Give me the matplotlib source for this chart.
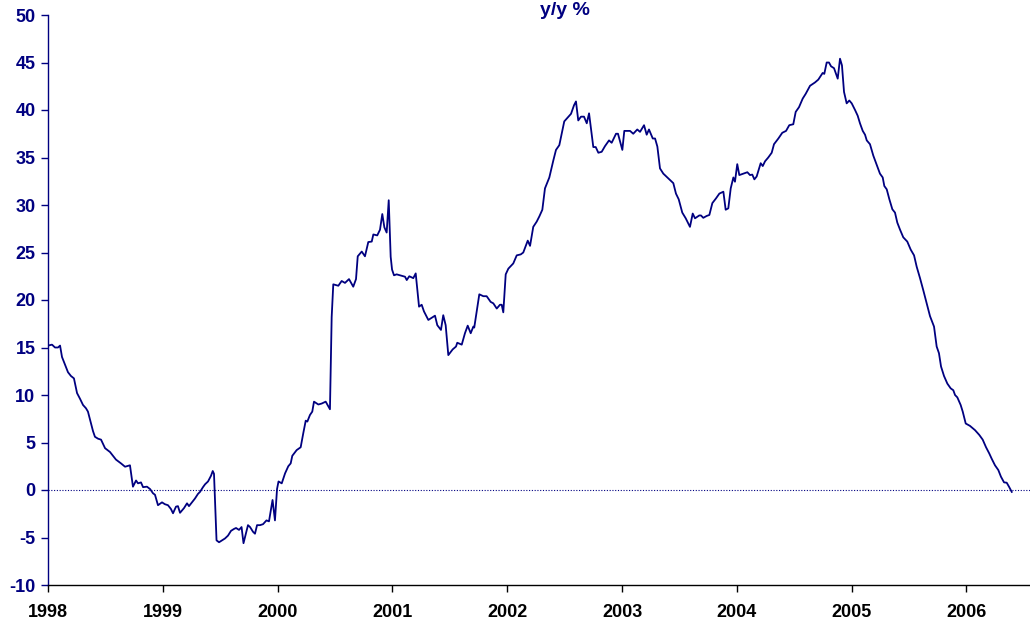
import matplotlib
matplotlib.use("Agg")
import matplotlib.pyplot as plt

# decimal-year offsets from 1998 and y/y % values
t_offset = [
    0.000, 0.035, 0.061, 0.087, 0.105, 0.122, 0.148, 0.174, 0.200, 0.226,
    0.253, 0.279, 0.305, 0.331, 0.348, 0.375, 0.392, 0.409, 0.436, 0.462,
    0.497, 0.540, 0.566, 0.592, 0.636, 0.671, 0.714, 0.740, 0.767, 0.784,
    0.810, 0.828, 0.862, 0.889, 0.915, 0.932, 0.958, 0.993, 1.019, 1.045,
    1.071, 1.089, 1.115, 1.132, 1.150, 1.185, 1.211, 1.228, 1.254, 1.280,
    1.307, 1.324, 1.350, 1.368, 1.394, 1.420, 1.435, 1.446, 1.468, 1.490,
    1.516, 1.542, 1.568, 1.594, 1.620, 1.638, 1.664, 1.686, 1.703, 1.742,
    1.760, 1.786, 1.803, 1.821, 1.847, 1.873, 1.903, 1.925, 1.943, 1.956,
    1.977, 1.995, 2.008, 2.036, 2.065, 2.093, 2.114, 2.128, 2.166, 2.201,
    2.224, 2.245, 2.259, 2.282, 2.302, 2.317, 2.355, 2.384, 2.419, 2.456,
    2.471, 2.485, 2.529, 2.558, 2.587, 2.622, 2.659, 2.683, 2.698, 2.733,
    2.761, 2.790, 2.820, 2.834, 2.868, 2.892, 2.912, 2.930, 2.950, 2.968,
    2.985, 2.997, 3.014, 3.037, 3.081, 3.110, 3.125, 3.147, 3.182, 3.203,
    3.232, 3.255, 3.275, 3.313, 3.371, 3.391, 3.423, 3.443, 3.464, 3.487,
    3.525, 3.554, 3.565, 3.604, 3.632, 3.656, 3.682, 3.705, 3.713, 3.757,
    3.792, 3.821, 3.856, 3.879, 3.909, 3.937, 3.952, 3.966, 3.987, 4.010,
    4.053, 4.083, 4.118, 4.140, 4.179, 4.199, 4.227, 4.257, 4.280, 4.306,
    4.329, 4.367, 4.402, 4.425, 4.454, 4.475, 4.497, 4.556, 4.582, 4.599,
    4.619, 4.643, 4.669, 4.693, 4.713, 4.750, 4.771, 4.794, 4.823, 4.852,
    4.887, 4.910, 4.948, 4.965, 5.003, 5.020, 5.070, 5.098, 5.133, 5.157,
    5.192, 5.215, 5.235, 5.268, 5.288, 5.308, 5.331, 5.360, 5.395, 5.447,
    5.470, 5.494, 5.525, 5.555, 5.592, 5.616, 5.636, 5.673, 5.688, 5.708,
    5.738, 5.761, 5.787, 5.819, 5.848, 5.883, 5.903, 5.926, 5.947, 5.970,
    5.984, 6.004, 6.022, 6.057, 6.092, 6.115, 6.135, 6.153, 6.173, 6.208,
    6.226, 6.246, 6.274, 6.304, 6.324, 6.362, 6.396, 6.429, 6.457, 6.492,
    6.513, 6.542, 6.574, 6.600, 6.638, 6.681, 6.710, 6.748, 6.762, 6.783,
    6.803, 6.821, 6.847, 6.879, 6.899, 6.916, 6.934, 6.957, 6.980, 7.001,
    7.030, 7.053, 7.073, 7.097, 7.117, 7.132, 7.160, 7.189, 7.219, 7.247,
    7.271, 7.285, 7.306, 7.329, 7.355, 7.378, 7.398, 7.422, 7.450, 7.485,
    7.515, 7.544, 7.567, 7.596, 7.625, 7.654, 7.683, 7.718, 7.741, 7.761,
    7.779, 7.805, 7.834, 7.863, 7.886, 7.901, 7.921, 7.950, 7.968, 7.994,
    8.031, 8.075, 8.112, 8.142, 8.171, 8.199, 8.220, 8.249, 8.278, 8.301,
    8.328, 8.351, 8.371, 8.395,
]
yoy_pct = [
    15.2, 15.3, 15.0, 15.0, 15.2, 14.0, 13.2, 12.4, 12.0, 11.75,
    10.2, 9.6, 8.95, 8.6, 8.25, 7.0, 6.2, 5.6, 5.4, 5.3,
    4.4, 4.0, 3.6, 3.2, 2.8, 2.45, 2.6, 0.35, 1.0, 0.7,
    0.8, 0.3, 0.35, 0.1, -0.35, -0.5, -1.6, -1.3, -1.5, -1.6,
    -2.0, -2.45, -1.75, -1.7, -2.4, -1.9, -1.4, -1.7, -1.3, -0.9,
    -0.4, -0.2, 0.3, 0.6, 0.9, 1.5, 2.0, 1.7, -5.3, -5.5,
    -5.3, -5.1, -4.8, -4.3, -4.1, -4.0, -4.2, -3.9, -5.6, -3.7,
    -3.9, -4.4, -4.6, -3.7, -3.7, -3.6, -3.2, -3.3, -2.0, -1.05,
    -3.2, 0.1, 0.9, 0.7, 1.75, 2.5, 2.8, 3.6, 4.2, 4.5,
    6.0, 7.3, 7.2, 7.9, 8.25, 9.3, 9.0, 9.1, 9.3, 8.5,
    18.2, 21.65, 21.5, 22.0, 21.8, 22.2, 21.4, 22.2, 24.6, 25.1,
    24.6, 26.1, 26.15, 26.9, 26.8, 27.4, 29.05, 27.65, 27.1, 30.5,
    24.55, 23.2, 22.6, 22.7, 22.55, 22.45, 22.1, 22.5, 22.3, 22.8,
    19.3, 19.5, 18.8, 17.9, 18.35, 17.35, 16.85, 18.4, 17.35, 14.2,
    14.8, 15.1, 15.5, 15.3, 16.5, 17.3, 16.5, 17.2, 17.1, 20.6,
    20.4, 20.4, 19.8, 19.65, 19.1, 19.5, 19.5, 18.7, 22.7, 23.3,
    23.85, 24.7, 24.8, 25.0, 26.25, 25.7, 27.7, 28.25, 28.8, 29.5,
    31.75, 32.9, 34.7, 35.8, 36.3, 37.5, 38.8, 39.6, 40.5, 40.9,
    38.9, 39.3, 39.3, 38.6, 39.65, 36.1, 36.1, 35.5, 35.6, 36.2,
    36.8, 36.55, 37.5, 37.5, 35.8, 37.8, 37.8, 37.5, 37.95, 37.7,
    38.4, 37.4, 37.95, 37.0, 37.0, 36.15, 33.85, 33.3, 32.9, 32.3,
    31.2, 30.6, 29.2, 28.6, 27.7, 29.1, 28.6, 28.9, 28.9, 28.65,
    28.85, 28.95, 30.2, 30.7, 31.2, 31.4, 29.5, 29.65, 31.75, 32.9,
    32.45, 34.3, 33.15, 33.3, 33.45, 33.15, 33.2, 32.7, 33.0, 34.4,
    34.1, 34.6, 35.0, 35.5, 36.4, 37.0, 37.6, 37.8, 38.4, 38.5,
    39.8, 40.3, 41.2, 41.7, 42.55, 42.9, 43.2, 43.9, 43.8, 45.0,
    45.0, 44.6, 44.4, 43.3, 45.4, 44.7, 41.9, 40.7, 41.0, 40.7,
    40.0, 39.4, 38.6, 37.8, 37.4, 36.8, 36.4, 35.2, 34.2, 33.3,
    32.9, 32.0, 31.65, 30.6, 29.55, 29.2, 28.15, 27.4, 26.6, 26.15,
    25.3, 24.7, 23.5, 22.3, 21.0, 19.65, 18.3, 17.2, 15.1, 14.4,
    13.0, 12.0, 11.2, 10.7, 10.5, 10.0, 9.75, 8.95, 8.25, 7.0,
    6.75, 6.3, 5.8, 5.3, 4.5, 3.85, 3.3, 2.6, 2.1, 1.4,
    0.8, 0.77, 0.35, -0.2,
]
base_year = 1998
year_ticks = [1998, 1999, 2000, 2001, 2002, 2003, 2004, 2005, 2006]
y_ticks = [-10, -5, 0, 5, 10, 15, 20, 25, 30, 35, 40, 45, 50]
title = "y/y %"

years = [base_year + t for t in t_offset]

navy = "#000080"
plt.rcParams['font.family'] = ['Liberation Sans', 'DejaVu Sans']
plt.rcParams['axes.unicode_minus'] = False

fig = plt.figure(figsize=(10.30, 6.26), dpi=100)
ax = fig.add_axes([48/1030, 1 - 585/626, 1 - 48/1030, (585 - 15)/626])

ax.plot(years, yoy_pct, color=navy, lw=1.3)
ax.axhline(0, color=navy, lw=0.8, ls=(0, (1, 1.5)))

ax.set_xlim(1998, 2006.554)
ax.set_ylim(-10, 50)
ax.set_xticks(year_ticks)
ax.set_xticklabels([str(y) for y in year_ticks])
ax.set_yticks(y_ticks)
ax.set_yticklabels([str(v) for v in y_ticks])

for s in ["top", "right"]:
    ax.spines[s].set_visible(False)
ax.spines["left"].set_color(navy)
ax.spines["bottom"].set_color("black")
ax.spines["left"].set_linewidth(1.0)
ax.spines["bottom"].set_linewidth(1.0)

ax.tick_params(axis="y", colors=navy, length=5, width=1, labelsize=13, pad=4)
ax.tick_params(axis="x", colors="black", length=5, width=1, labelsize=13, pad=9)
for lab in ax.get_yticklabels():
    lab.set_fontweight("bold")
    lab.set_color(navy)
for lab in ax.get_xticklabels():
    lab.set_fontweight("bold")

fig.text(565/1030, 1 - 2/626, title, color=navy, fontsize=14, fontweight="bold",
         ha="center", va="top")

fig.savefig("out.png", dpi=100)
